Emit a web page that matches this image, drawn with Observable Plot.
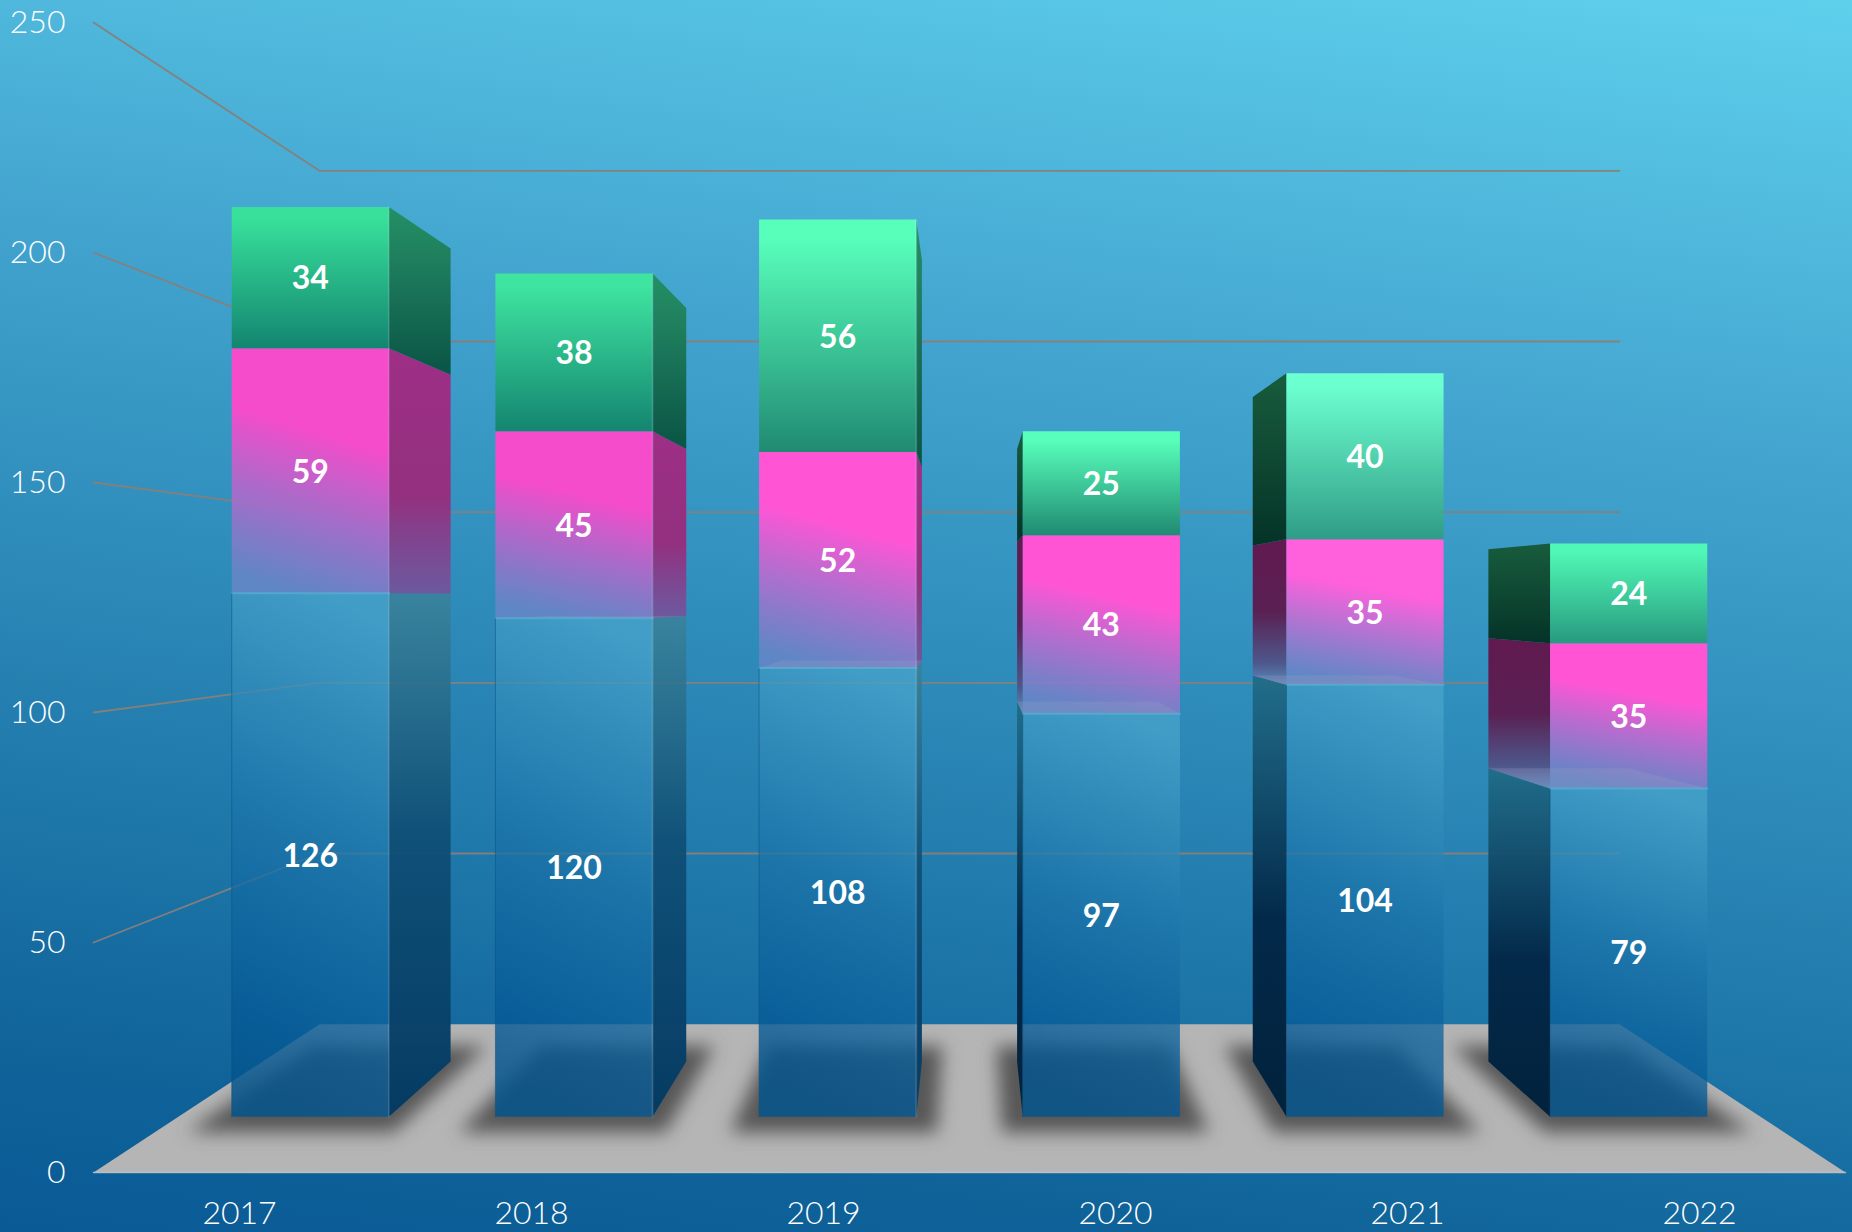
<!DOCTYPE html>
<html>
<head>
<meta charset="utf-8">
<script src="https://cdn.jsdelivr.net/npm/d3@7"></script>
<script src="https://cdn.jsdelivr.net/npm/@observablehq/plot@0.6"></script>
<style>
html,body{margin:0;padding:0;background:#0a5a96;overflow:hidden}
svg{display:block}
</style>
</head>
<body>
<div id="chart"></div>
<script>
// Chart values
const years = ["2017", "2018", "2019", "2020", "2021", "2022"];
const blueValues = [126, 120, 108, 97, 104, 79];
const pinkValues = [59, 45, 52, 43, 35, 35];
const greenValues = [34, 38, 56, 25, 40, 24];
const valueTicks = [0, 50, 100, 150, 200, 250];

// Per-bar lighting of the faces
const greenTop = ["#38e09b", "#3fe4a0", "#58ffbb", "#58ffbb", "#6cffcf", "#50f8b5"];
const greenBottom = ["#138570", "#138570", "#208a72", "#208a72", "#2f9c86", "#279a7f"];
const pinkTop = ["#f44ccb", "#f44ccb", "#ff55d5", "#ff55d5", "#ff60dc", "#ff55d5"];

// Perspective of the scene, in scale units
const centerU = 2.5, centerV = 125;
const depthFront = 0.903, depthBack = 0.807, depthWall = 0.742;
const halfBar = 0.298;
const project = (u, v, s) => ({x: centerU + (u - centerU) * s, y: centerV + (v - centerV) * s});

function gradient(defs, id, stops, x1 = 0, y1 = 0, x2 = 0, y2 = 1) {
  const g = defs.append("linearGradient").attr("id", id)
    .attr("x1", x1).attr("y1", y1).attr("x2", x2).attr("y2", y2);
  for (const [o, c, a = 1] of stops)
    g.append("stop").attr("offset", o).attr("stop-color", c).attr("stop-opacity", a);
}

const defsMark = () => {
  const defs = d3.create("svg:defs");
  const f = defs.append("filter").attr("id", "soft").attr("x", "-30%").attr("y", "-60%").attr("width", "160%").attr("height", "220%");
  f.append("feGaussianBlur").attr("stdDeviation", 9);
  years.forEach((_, i) => {
    gradient(defs, `gf${i}`, [[0, greenTop[i]], [0.08, greenTop[i]], [1, greenBottom[i]]]);
    gradient(defs, `pf${i}`, [[0, pinkTop[i]], [0.34, pinkTop[i]], [1, "#6b86c8", 0.8]], 0.6, 0, 0.4, 1);
  });
  gradient(defs, "bf", [[0, "#48a4cb", 0.74], [0.5, "#1a72a8", 0.74], [0.85, "#055a96", 0.78], [1, "#03548c", 0.84]], 0.58, 0, 0.42, 1);
  gradient(defs, "gsR", [[0, "#239064"], [0.3, "#1f7f5e"], [1, "#0a5445"]]);
  gradient(defs, "gsL", [[0, "#175c3c"], [0.4, "#114c35"], [1, "#043327"]]);
  gradient(defs, "psR", [[0, "#9e2f86"], [0.6, "#93307f"], [1, "#77509a", 0.85]]);
  gradient(defs, "psL", [[0, "#611a50"], [0.5, "#5a2053"], [0.85, "#4f5488", 0.95], [1, "#6286bb", 0.8]]);
  gradient(defs, "bsR", [[0, "#3b8197", 0.8], [0.45, "#0f4f76", 0.95], [1, "#053b63"]]);
  gradient(defs, "bsL", [[0, "#1f6a85", 0.9], [0.55, "#03294a"], [1, "#02223c"]]);
  return defs.node();
};

const poly = (points, fill, extra = {}) =>
  Plot.line(points, {x: "x", y: "y", fill, stroke: "none", ...extra});

const edge = (points, stroke, strokeWidth, strokeOpacity) =>
  Plot.line(points, {x: "x", y: "y", stroke, strokeWidth, strokeOpacity});

// Quad of the front plane between two values
const frontQuad = (u, v0, v1) => [
  project(u - halfBar, v1, depthFront), project(u + halfBar, v1, depthFront),
  project(u + halfBar, v0, depthFront), project(u - halfBar, v0, depthFront)];

// Quad of the visible side between two values
const sideQuad = (u0, v0, v1) => [
  project(u0, v1, depthFront), project(u0, v1, depthBack),
  project(u0, v0, depthBack), project(u0, v0, depthFront)];

const blurred = (index, scales, values, dimensions, context, next) => {
  const g = next(index, scales, values, dimensions, context);
  g.setAttribute("filter", "url(#soft)");
  return g;
};

const marks = [defsMark];

// Grid lines: wall and left side of the scene
for (const t of valueTicks.slice(1)) {
  marks.push(edge([project(-0.5, t, 1), project(-0.5, t, depthWall), project(5.5, t, depthWall)], "#87807a", 1.8, 0.95));
}

// Floor
marks.push(poly([project(-0.5, 0, 1), project(5.5, 0, 1), project(5.5, 0, depthWall), project(-0.5, 0, depthWall)], "#b5b5b5"));
marks.push(edge([project(-0.5, 0, 1), project(5.5, 0, 1)], "#c8ccd0", 1.5, 0.8));

// Floor shadows
years.forEach((_, i) => {
  const hw = 0.38;
  marks.push(poly([project(i - hw, 0, 0.78), project(i + hw, 0, 0.78), project(i + hw, 0, 0.93), project(i - hw, 0, 0.93)],
    "#565656", {render: blurred}));
});

// Bars
years.forEach((year, i) => {
  const b = blueValues[i], p = b + pinkValues[i], g = p + greenValues[i];
  const right = i + halfBar < centerU;
  const sideU = right ? i + halfBar : i - halfBar;
  const s = right ? "R" : "L";

  marks.push(poly(sideQuad(sideU, 0, b), `url(#bs${s})`));
  marks.push(poly(frontQuad(i, 0, b), "url(#bf)"));
  marks.push(poly(sideQuad(sideU, b, p), `url(#ps${s})`));
  marks.push(poly(frontQuad(i, b, p), `url(#pf${i})`));
  if (b < centerV) {
    marks.push(poly([project(i - halfBar, b, depthFront), project(i + halfBar, b, depthFront),
      project(i + halfBar, b, depthBack), project(i - halfBar, b, depthBack)], "#a49ac4", {fillOpacity: 0.25}));
  }
  marks.push(poly(sideQuad(sideU, p, g), `url(#gs${s})`));
  marks.push(poly(frontQuad(i, p, g), `url(#gf${i})`));

  // Rim and edge light
  marks.push(edge([project(i - halfBar, b, depthFront), project(i + halfBar, b, depthFront)], "#58b6d4", 2, 0.65));
  if (right) {
    marks.push(edge([project(i + halfBar, g, depthFront), project(i + halfBar, 0, depthFront)], "#ffffff", 2, 0.12));
  }
  marks.push(edge([project(i - halfBar, b, depthFront), project(i - halfBar, 0, depthFront)], "#0a4f80", 1, 0.5));
});

// Value labels
const labels = years.flatMap((_, i) => {
  const b = blueValues[i], p = pinkValues[i], g = greenValues[i];
  return [
    {...project(i, b / 2, depthFront), value: b},
    {...project(i, b + p / 2, depthFront), value: p},
    {...project(i, b + p + g / 2, depthFront), value: g}
  ];
});
marks.push(Plot.text(labels, {
  x: "x", y: "y", text: "value", fill: "white", dy: 1.5,
  fontSize: 32, fontWeight: 700, fontFamily: "Lato"
}));

// Axes
marks.push(Plot.axisY(valueTicks, {
  label: null, tickSize: 0, tickPadding: 28, fontSize: 32, fontWeight: 300, fontFamily: "Lato", fill: "#ffffff"
}));
marks.push(Plot.axisX(years.map((_, i) => i), {
  label: null, tickSize: 0, tickPadding: 29, tickFormat: (d) => years[d],
  fontSize: 32, fontWeight: 300, fontFamily: "Lato", fill: "#ffffff"
}));

const chart = Plot.plot({
  width: 1852,
  height: 1232,
  marginLeft: 93,
  marginRight: 7,
  marginTop: 22,
  marginBottom: 60,
  x: {domain: [-0.5, 5.5]},
  y: {domain: [0, 250]},
  style: {
    background: "linear-gradient(188deg, #5ed0ec 0%, #46a9d2 28%, #2f8dbb 52%, #0f6399 88%, #0a5a96 100%)",
    overflow: "hidden"
  },
  marks
});
document.getElementById("chart").append(chart);
</script>
</body>
</html>
